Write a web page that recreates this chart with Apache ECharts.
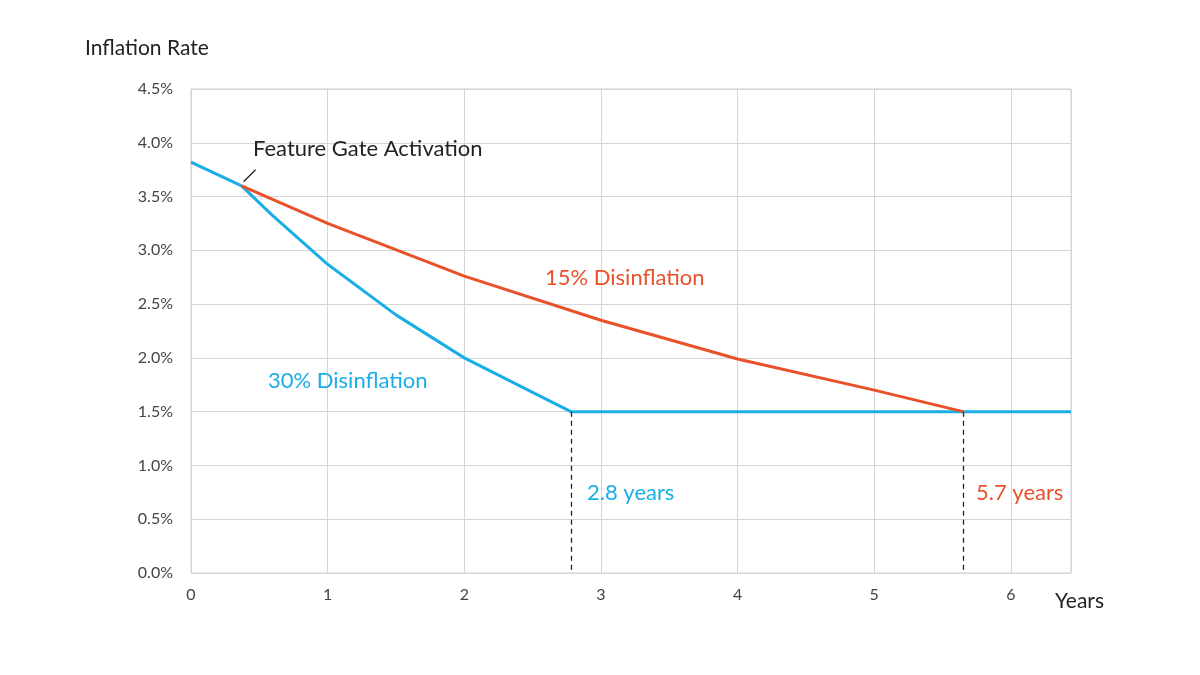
<!DOCTYPE html>
<html><head><meta charset="utf-8">
<script src="https://cdn.jsdelivr.net/npm/echarts@6/dist/echarts.min.js"></script>
<style>html,body{margin:0;background:#fff}#c{width:1200px;height:675px}</style>
</head><body><div id="c"></div>
<script>
const preGate = [[0, 3.82], [0.37, 3.6]];
const fast30 = [[0.37, 3.6], [0.6, 3.32], [1, 2.87], [1.5, 2.4], [2, 2.0], [2.5, 1.68], [2.78, 1.5], [6.44, 1.5]];
const slow15 = [[0.37, 3.6], [1, 3.25], [2, 2.76], [3, 2.35], [4, 1.99], [5, 1.7], [5.65, 1.5]];
const dropYears = [2.78, 5.65];
const yTicks = [0, 0.5, 1, 1.5, 2, 2.5, 3, 3.5, 4, 4.5];
const BLUE = '#1aaee6', RED = '#e8512a', FONT = 'Lato';
const chart = echarts.init(document.getElementById('c'));
chart.setOption({
  animation: false,
  textStyle: {fontFamily: FONT},
  grid: {left: 191, right: 129, top: 89, bottom: 102, show: true, borderColor: '#cfcfcf', borderWidth: 1},
  xAxis: {type: 'value', min: 0, max: 6.44, interval: 1,
    axisLine: {show: false}, axisTick: {show: false},
    splitLine: {lineStyle: {color: '#d6d6d6'}},
    axisLabel: {color: '#444', fontSize: 16, margin: 14, showMaxLabel: false, fontFamily: FONT}},
  yAxis: {type: 'value', min: 0, max: 4.5, interval: 0.5,
    axisLine: {show: false}, axisTick: {show: false},
    splitLine: {lineStyle: {color: '#d6d6d6'}},
    axisLabel: {color: '#444', fontSize: 16, margin: 18, fontFamily: FONT, formatter: v => v.toFixed(1) + '%'}},
  series: [
    {type: 'line', data: preGate, symbol: 'none', lineStyle: {color: BLUE, width: 3}},
    {type: 'line', data: fast30, symbol: 'none', lineStyle: {color: BLUE, width: 3}},
    {type: 'line', data: slow15, symbol: 'none', lineStyle: {color: RED, width: 3}},
    {type: 'line', data: [], markLine: {symbol: 'none', silent: true, label: {show: false},
      lineStyle: {color: '#222', type: [5, 4], width: 1.3},
      data: dropYears.map(x => [{coord: [x, 1.5]}, {coord: [x, 0]}])}}
  ]
});
function P(x, y) { return chart.convertToPixel({gridIndex: 0}, [x, y]); }
const t = (x, y, text, color, size, extra) => Object.assign({type: 'text', x, y,
  style: {text, fill: color, font: `${size}px ${FONT}`, textVerticalAlign: 'middle'}}, extra || {});
const g = P(0.37, 3.6);
chart.setOption({graphic: [
  t(85, 48, 'Inflation Rate', '#222', 21),
  t(1055, 601, 'Years', '#222', 21),
  t(253, 149, 'Feature Gate Activation', '#222', 22),
  {type: 'line', shape: {x1: g[0] + 2, y1: g[1] - 4, x2: g[0] + 14, y2: g[1] - 16}, style: {stroke: '#222', lineWidth: 1.3}},
  t(545, 278, '15% Disinflation', RED, 22),
  t(268, 381, '30% Disinflation', BLUE, 22),
  t(587, 493, '2.8 years', BLUE, 22),
  t(976, 493, '5.7 years', RED, 22)
]});
</script></body></html>
